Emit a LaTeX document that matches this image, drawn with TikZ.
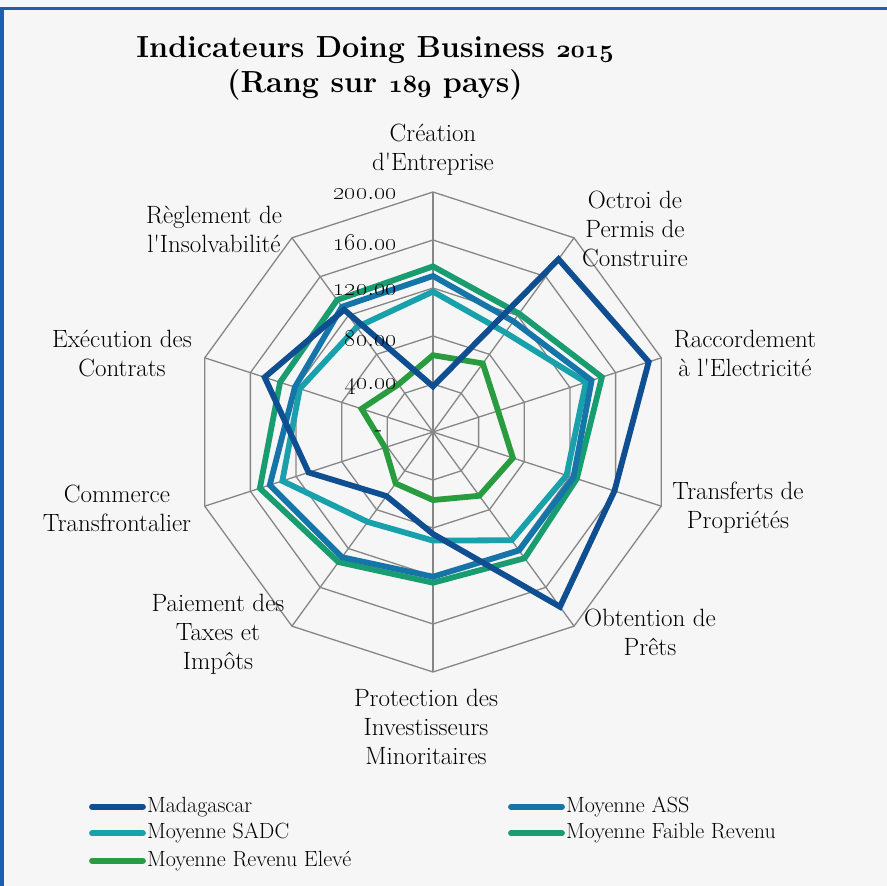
\documentclass[tikz,border=0pt]{standalone}
\usepackage{tikz}
\usetikzlibrary{calc, positioning}

\definecolor{madablue}{RGB}{16,78,146}
\definecolor{assblue}{RGB}{22,117,168}
\definecolor{sadcteal}{RGB}{24,161,171}
\definecolor{faiblegreen}{RGB}{25,157,112}
\definecolor{elevegreen}{RGB}{42,156,64}
\definecolor{gridgray}{RGB}{134,134,134}
\definecolor{frameblue}{RGB}{28,94,176}
\definecolor{paper}{RGB}{246,246,246}

% chiffres elzeviriens gras
\newcommand\osnb[1]{{\usefont{OML}{cmm}{b}{it}#1}}

\begin{document}
\begin{tikzpicture}[x=1pt, y=1pt,
    grid/.style={draw=gridgray, line width=1.3pt},
    serie/.style={line width=5.8pt, line join=miter, miter limit=4},
    axe/.style={align=center, font=\fontsize{25}{29}\selectfont, inner sep=0pt},
    val/.style={anchor=east, font=\fontsize{26}{28}\selectfont, inner sep=0pt},
    leg/.style={anchor=west, font=\fontsize{22}{24}\selectfont, inner sep=1pt},
    legline/.style={line width=5.8pt, line cap=round, shorten >=3pt}]
  % fond et cadre
  \fill[paper] (-433,-454) rectangle (454,432);
  \useasboundingbox (-433,-454) rectangle (454,432);
  \draw[frameblue, line width=3pt] (-433,423.5) -- (454,423.5);
  \draw[frameblue, line width=4pt] (-431,425) -- (-431,-454);
  % titre
  \node[align=center, font=\bfseries\fontsize{30.5}{35}\selectfont] (titre) at (-58,364)
    {Indicateurs Doing Business \osnb{2015}\\(Rang sur \osnb{189} pays)};
  \begin{scope}[scale=1.2]
    % grille
    \foreach \r in {40,80,...,200}
      \draw[grid] (90:\r) \foreach \a in {54,18,...,-234} { -- (\a:\r) } -- cycle;
    \foreach \a in {90,54,...,-234}
      \draw[grid] (0,0) -- (\a:200);
    % series
    \draw[serie, elevegreen] (90:64) -- (54:70.6) -- (18:57) -- (-18:70) -- (-54:65.7)
      -- (-90:56.7) -- (-126:53) -- (-162:42) -- (162:62.6) -- (126:49) -- cycle;
    \draw[serie, faiblegreen] (90:138) -- (54:122) -- (18:148) -- (-18:126) -- (-54:130)
      -- (-90:125.6) -- (-126:134) -- (-162:151.7) -- (162:134) -- (126:136) -- cycle;
    \draw[serie, sadcteal] (90:117) -- (54:102.5) -- (18:134) -- (-18:117) -- (-54:111.5)
      -- (-90:90.5) -- (-126:92.6) -- (-162:132) -- (162:116.7) -- (126:108) -- cycle;
    \draw[serie, assblue] (90:130) -- (54:114) -- (18:139) -- (-18:123) -- (-54:122)
      -- (-90:120.6) -- (-126:129) -- (-162:143) -- (162:121) -- (126:129) -- cycle;
    \draw[serie, madablue] (90:38) -- (54:178) -- (18:189) -- (-18:159) -- (-54:180)
      -- (-90:85) -- (-126:66) -- (-162:109) -- (162:147.5) -- (126:126) -- cycle;
    % graduations
    \foreach \r in {40,80,...,200}
      \node[val] (v\r) at (-30,\r-2) {\oldstylenums{\r}.\oldstylenums{00}};
  \end{scope}
  \node[font=\fontsize{24}{28}\selectfont, inner sep=0pt] (v0) at (-54.5,-2) {-};
  % axes
  \node[axe] (lCrea) at (0,282) {Création\\d\textquotesingle Entreprise};
  \node[axe] (lPermis) at (202,203) {Octroi de\\Permis de\\Construire};
  \node[axe] (lElec) at (312,79) {Raccordement\\à l\textquotesingle Electricité};
  \node[axe] (lProp) at (305,-76) {Transferts de\\Propriétés};
  \node[axe] (lPret) at (217,-200) {Obtention de\\Prêts};
  \node[axe] (lInvest) at (-7,-295) {Protection des\\Investisseurs\\Minoritaires};
  \node[axe] (lTaxe) at (-215,-202) {Paiement des\\Taxes et\\Impôts};
  \node[axe] (lComm) at (-316,-76) {Commerce\\Transfrontalier};
  \node[axe] (lContrat) at (-311,78) {Exécution des\\Contrats};
  \node[axe] (lInsolv) at (-219,203) {Règlement de\\l\textquotesingle Insolvabilité};
  % legende
  \coordinate (cMada) at (-341,-374.7);
  \coordinate (cSadc) at (-341,-401.3);
  \coordinate (cEleve) at (-341,-428.7);
  \coordinate (cAss) at (78,-374.7);
  \coordinate (cFaible) at (78,-401.3);
  \node[leg] (tMada) at (-287,-374.7) {Madagascar};
  \node[leg] (tSadc) at (-287,-401.3) {Moyenne SADC};
  \node[leg] (tEleve) at (-287,-428.7) {Moyenne Revenu Elevé};
  \node[leg] (tAss) at (132,-374.7) {Moyenne ASS};
  \node[leg] (tFaible) at (132,-401.3) {Moyenne Faible Revenu};
  \draw[legline, madablue] (cMada) -- (tMada.west);
  \draw[legline, sadcteal] (cSadc) -- (tSadc.west);
  \draw[legline, elevegreen] (cEleve) -- (tEleve.west);
  \draw[legline, assblue] (cAss) -- (tAss.west);
  \draw[legline, faiblegreen] (cFaible) -- (tFaible.west);
\end{tikzpicture}
\end{document}
